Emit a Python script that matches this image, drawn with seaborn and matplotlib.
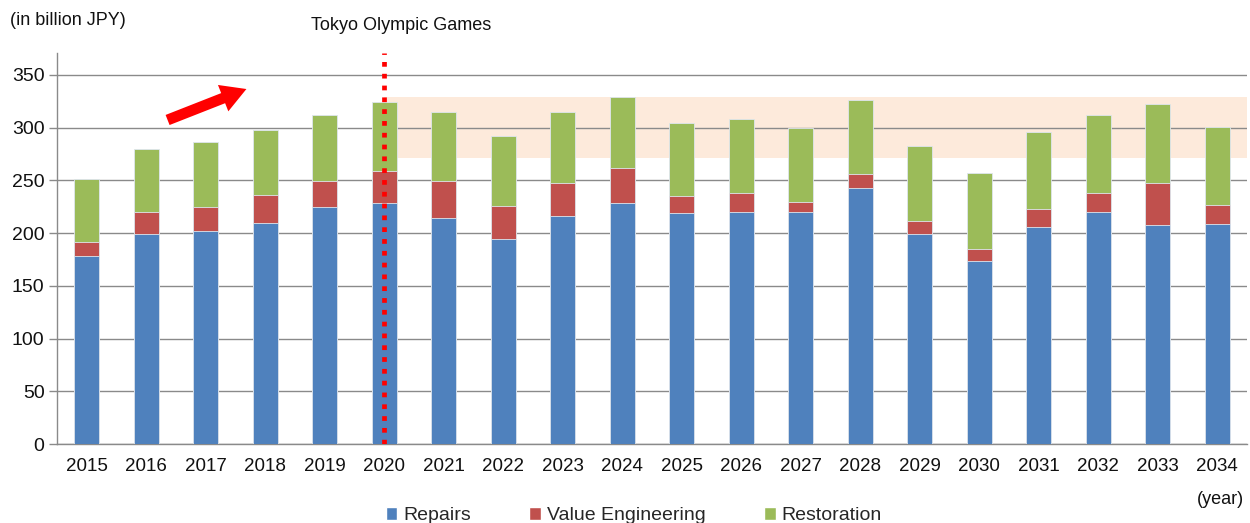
import matplotlib
matplotlib.use("Agg")
import matplotlib.pyplot as plt
import seaborn as sns
import pandas as pd
import numpy as np
from matplotlib.patches import Patch

years = [str(y) for y in range(2015, 2035)]
repairs = [178, 199, 202, 210, 224.5, 228.5, 214.5, 194, 216, 228.5, 219, 220, 220, 242.5, 199, 174, 206, 220, 207.5, 209]
value_eng = [14, 21, 22.5, 26, 25, 30.5, 35, 32, 32, 33.5, 16.5, 18, 10, 13.5, 12.5, 11, 17, 18, 40.5, 18]
restoration = [59, 60, 61.5, 62, 62.5, 65, 65.5, 66.5, 67, 67, 68.5, 70, 70, 70, 71.5, 72.5, 72.5, 74, 74, 74]
series_names = ["Repairs", "Value Engineering", "Restoration"]
colors = ["#4F81BD", "#C0504D", "#9BBB59"]

df = pd.DataFrame({"year": years, "Repairs": repairs,
                   "Value Engineering": value_eng, "Restoration": restoration})
df["cum_rep"] = df["Repairs"]
df["cum_ve"] = df["Repairs"] + df["Value Engineering"]
df["cum_all"] = df["cum_ve"] + df["Restoration"]

sns.set_style("white")
plt.rcParams["font.family"] = ["Liberation Sans", "DejaVu Sans"]

fig = plt.figure(figsize=(12.5, 5.23), dpi=100)
ax = fig.add_axes([0.0456, 0.151, 0.952, 0.748])

# shaded band (2020 onward, ~271-329)
ax.axhspan(271, 329, xmin=(5 + 0.5) / 20, xmax=1.0, color="#FDEADB", zorder=0, lw=0)

for col, c in zip(["cum_all", "cum_ve", "cum_rep"], [colors[2], colors[1], colors[0]]):
    sns.barplot(data=df, x="year", y=col, color=c, width=0.42, ax=ax,
                saturation=1, edgecolor="#dfe6ee", linewidth=0.6, zorder=3)

ax.set_ylim(0, 371)
ax.set_xlim(-0.5, 19.5)
ax.set_yticks(np.arange(0, 351, 50))
ax.yaxis.grid(True, color="#8a8a8a", lw=1.0, zorder=1)
ax.set_axisbelow(True)
ax.set_xlabel("")
ax.set_ylabel("")
for s in ["top", "right"]:
    ax.spines[s].set_visible(False)
for s in ["left", "bottom"]:
    ax.spines[s].set_color("#8a8a8a")
    ax.spines[s].set_linewidth(1.0)

ax.set_xticks(np.arange(-0.5, 20, 1), minor=True)
ax.tick_params(axis="x", which="major", length=0, pad=10, labelsize=13.5, colors="#111111")
ax.tick_params(axis="x", which="minor", length=5, width=1, color="#8a8a8a", direction="out")
ax.tick_params(axis="y", which="major", length=6, width=1, color="#8a8a8a", pad=3,
               labelsize=14, labelcolor="#111111", left=True)

# Olympic line at 2020
ax.axvline(5, ymin=0, ymax=1, color="#FF0000", lw=3.4, linestyle=(0, (1, 1.5)),
           dash_capstyle="butt", zorder=5)

fig.text(0.008, 0.960, "(in billion JPY)", fontsize=13, color="#111111", va="center", ha="left")
fig.text(0.321, 0.952, "Tokyo Olympic Games", fontsize=13, color="#111111", va="center", ha="center")
fig.text(0.9955, 0.044, "(year)", fontsize=13, color="#111111", va="center", ha="right")

fig.patches.append(matplotlib.patches.FancyArrowPatch(
    (165 / 1250, (523 - 121) / 523), (249 / 1250, (523 - 88) / 523),
    transform=fig.transFigure, arrowstyle="simple,head_width=1.7,head_length=1.5,tail_width=0.65",
    mutation_scale=12, color="#FF0000", lw=0))

handles = [Patch(facecolor=c, label=n) for c, n in zip(colors, series_names)]
fig.legend(handles=handles, loc="center", bbox_to_anchor=(0.507, 0.014), ncol=3,
           frameon=False, fontsize=14, handlelength=0.6, handleheight=0.6,
           handletextpad=0.3, columnspacing=3.0)

fig.savefig("out.png", dpi=100)
